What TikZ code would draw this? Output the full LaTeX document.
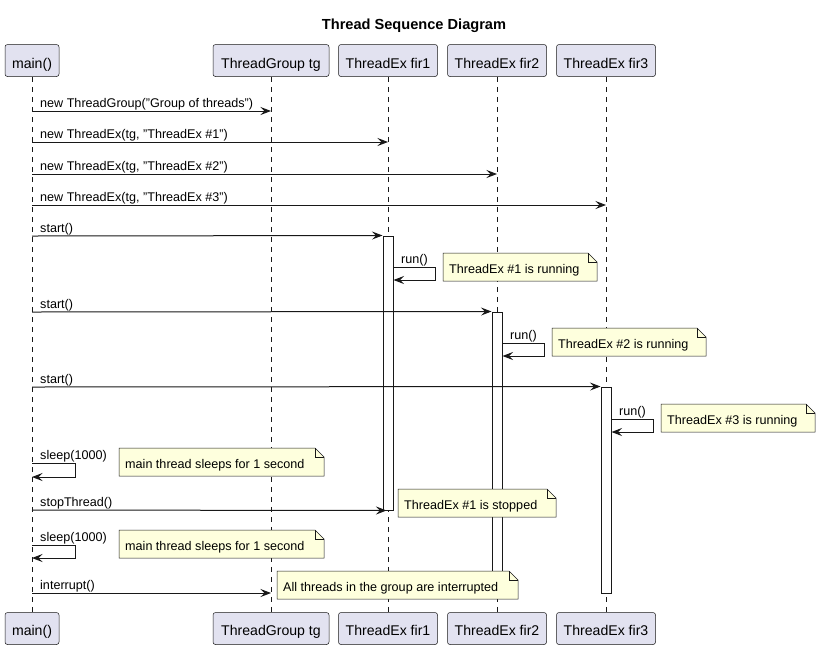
\documentclass[tikz,border=0pt]{standalone}
\usepackage{fontspec}
\setmainfont{Liberation Sans}
\usetikzlibrary{arrows.meta}
\definecolor{pfill}{HTML}{E2E2F0}
\definecolor{ink}{HTML}{181818}
\definecolor{nfill}{HTML}{FEFFDD}
\tikzset{
  part/.style={draw=ink, line width=0.5pt, fill=pfill, rounded corners=2.5pt,
    minimum height=32pt, inner sep=0pt, text depth=0pt,
    font=\fontsize{14.1}{17}\selectfont},
  partT/.style={part, text height=15.6pt},
  partB/.style={part, text height=13pt},
  lifeline/.style={draw=ink, line width=0.5pt, dash pattern=on 5pt off 5pt},
  act/.style={draw=ink, fill=white, line width=1pt, minimum width=10pt, inner sep=0pt},
  msg/.style={draw=ink, line width=1pt, -{Stealth[length=10.5pt,width=8pt,inset=4pt]}},
  lbl/.style={inner sep=0pt, anchor=base west, font=\fontsize{12.6}{15}\selectfont, text=black},
  noteline/.style={draw=ink, line width=0.5pt, fill=nfill, line join=miter},
  foldline/.style={draw=ink, line width=0.5pt},
}
\newcommand\pnote[5]{%
  \path[noteline] (#2,#3) -- (#4-9,#3) -- (#4,#3+9) -- (#4,#3+28) -- (#2,#3+28) -- cycle;
  \path[foldline] (#4-9,#3) -- (#4-9,#3+9) -- (#4,#3+9);
  \node[lbl] (#1) at (#2+6,#3+20) {#5};
}
\begin{document}
\begin{tikzpicture}[x=1pt, y=-1pt]
\useasboundingbox (0,0) rectangle (821,649);

\node[font=\bfseries\fontsize{14.6}{17}\selectfont, anchor=base, inner sep=0pt] (title) at (414,29.5) {Thread Sequence Diagram};

% participants top
\node[partT, minimum width=54pt]  (mainT) at (32,60.5)  {main()};
\node[partT, minimum width=116pt] (tgT)   at (271,60.5) {ThreadGroup tg};
\node[partT, minimum width=99pt]  (f1T)   at (388,60.5) {ThreadEx fir1};
\node[partT, minimum width=99pt]  (f2T)   at (497,60.5) {ThreadEx fir2};
\node[partT, minimum width=99pt]  (f3T)   at (606,60.5) {ThreadEx fir3};
% participants bottom
\node[partB, minimum width=54pt]  (mainB) at (32,628.5)  {main()};
\node[partB, minimum width=116pt] (tgB)   at (271,628.5) {ThreadGroup tg};
\node[partB, minimum width=99pt]  (f1B)   at (388,628.5) {ThreadEx fir1};
\node[partB, minimum width=99pt]  (f2B)   at (497,628.5) {ThreadEx fir2};
\node[partB, minimum width=99pt]  (f3B)   at (606,628.5) {ThreadEx fir3};

% lifelines
\draw[lifeline] (mainT.south) -- (mainB.north);
\draw[lifeline] (tgT.south) -- (tgB.north);
\draw[lifeline] (f1T.south) -- (f1B.north);
\draw[lifeline] (f2T.south) -- (f2B.north);
\draw[lifeline] (f3T.south) -- (f3B.north);

% activations
\node[act, minimum height=274pt] (act1) at (388,373) {};
\node[act, minimum height=286pt] (act2) at (497,455) {};
\node[act, minimum height=206pt] (act3) at (606,490) {};

% messages
\draw[msg] (mainT |- 0,111) -- (tgT |- 0,111);
\node[lbl] (l1) at (40,107) {new ThreadGroup("Group of threads")};
\draw[msg] (mainT |- 0,142) -- (f1T |- 0,142);
\node[lbl] (l2) at (40,138) {new ThreadEx(tg, "ThreadEx \#1")};
\draw[msg] (mainT |- 0,174) -- (f2T |- 0,174);
\node[lbl] (l3) at (40,170) {new ThreadEx(tg, "ThreadEx \#2")};
\draw[msg] (mainT |- 0,205) -- (f3T |- 0,205);
\node[lbl] (l4) at (40,201) {new ThreadEx(tg, "ThreadEx \#3")};

\draw[msg] (mainT |- 0,236) -- (act1.north west);
\node[lbl] (l5) at (40,232) {start()};
\draw[msg] (act1.east |- 0,267) -- ++(42,0) |- (act1.east |- 0,280);
\node[lbl] (l6) at (401,263) {run()};

\draw[msg] (mainT |- 0,312) -- (act2.north west);
\node[lbl] (l7) at (40,308) {start()};
\draw[msg] (act2.east |- 0,343) -- ++(42,0) |- (act2.east |- 0,356);
\node[lbl] (l8) at (510,339) {run()};

\draw[msg] (mainT |- 0,387) -- (act3.north west);
\node[lbl] (l9) at (40,383) {start()};
\draw[msg] (act3.east |- 0,419) -- ++(42,0) |- (act3.east |- 0,432);
\node[lbl] (l10) at (619,415) {run()};

\draw[msg] (mainT |- 0,463) -- ++(43,0) |- (mainT |- 0,477);
\node[lbl] (l11) at (40,459) {sleep(1000)};

\draw[msg, shorten >=1.5pt] (mainT |- 0,510) -- (act1.south);
\node[lbl] (l12) at (40,506) {stopThread()};

\draw[msg] (mainT |- 0,545) -- ++(43,0) |- (mainT |- 0,558);
\node[lbl] (l13) at (40,541) {sleep(1000)};

\draw[msg] (mainT |- 0,593) -- (tgT |- 0,593);
\node[lbl] (l14) at (40,589) {interrupt()};

% notes
\pnote{n1}{443}{253}{597}{ThreadEx \#1 is running}
\pnote{n2}{552}{328}{706}{ThreadEx \#2 is running}
\pnote{n3}{661}{404}{815}{ThreadEx \#3 is running}
\pnote{n4}{119}{448}{324}{main thread sleeps for 1 second}
\pnote{n5}{398}{489}{556}{ThreadEx \#1 is stopped}
\pnote{n6}{119}{530}{324}{main thread sleeps for 1 second}
\pnote{n7}{277}{571}{518}{All threads in the group are interrupted}
\end{tikzpicture}
\end{document}
